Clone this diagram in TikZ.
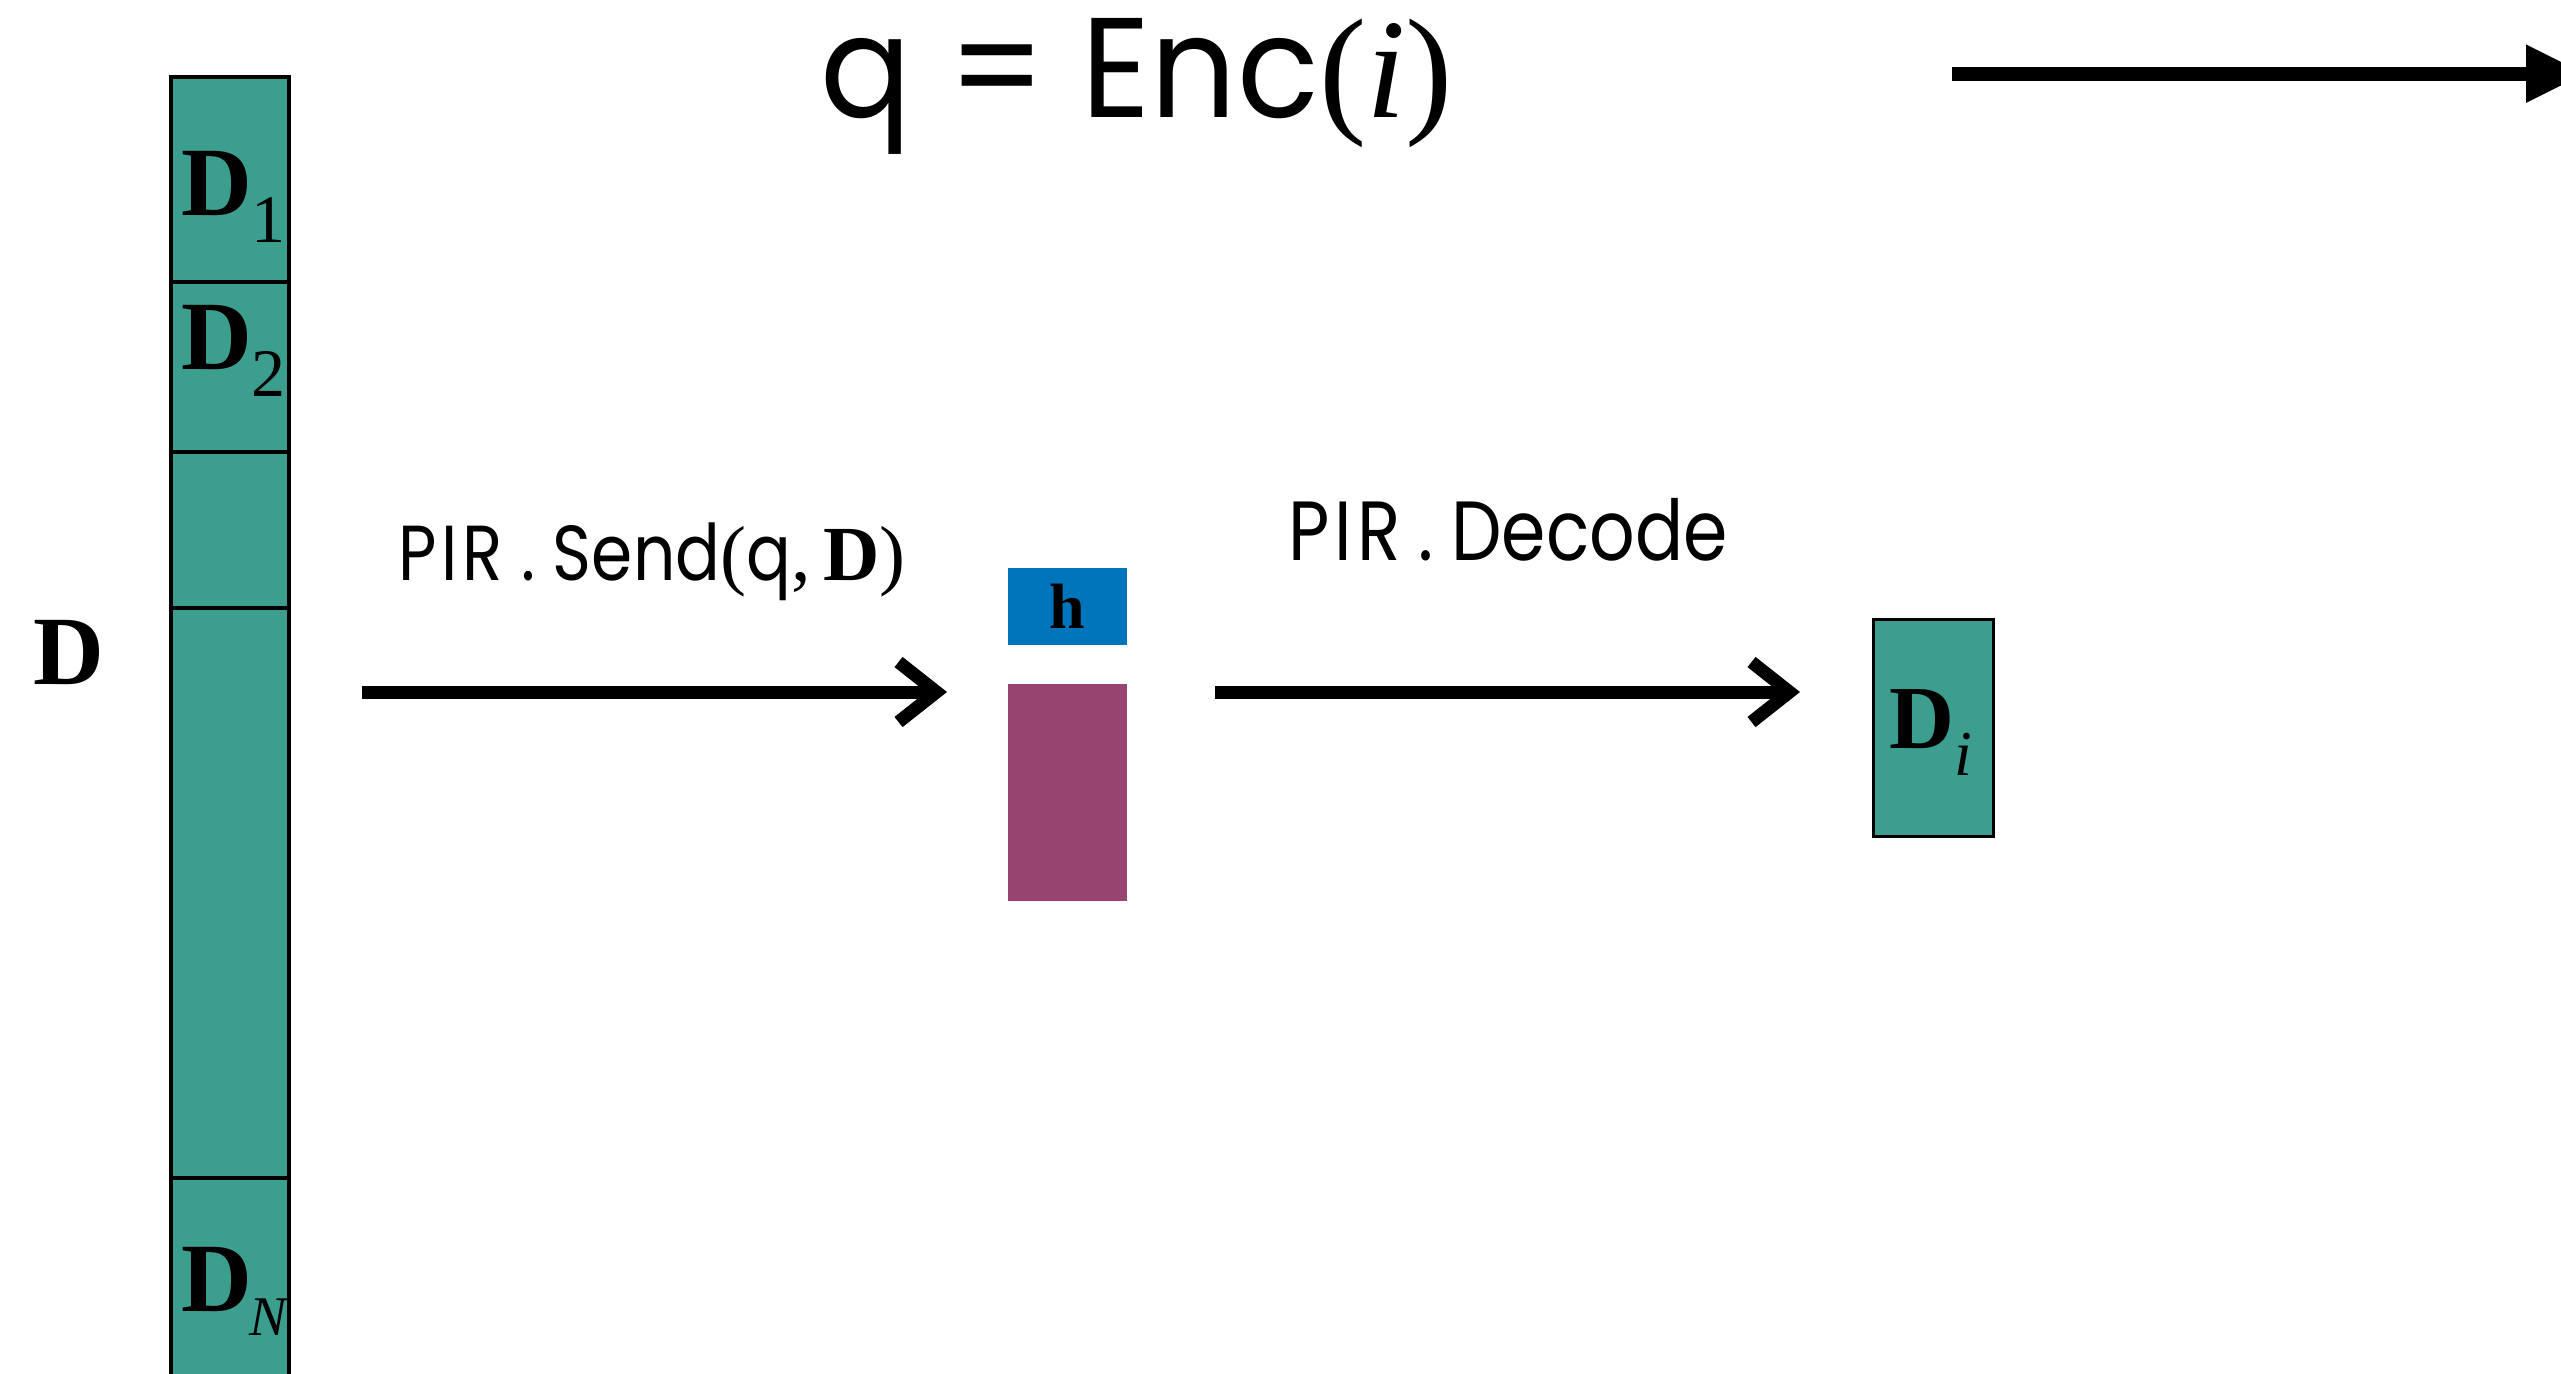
\documentclass[tikz,border=0pt]{standalone}
\usepackage{fontspec}
\setmainfont{Liberation Serif}
\setsansfont{Poppins}[FakeStretch=0.95]
\newfontfamily\condsans{Poppins}[FakeStretch=0.85]
\usetikzlibrary{arrows.meta}
\definecolor{cellteal}{RGB}{59,158,143}
\definecolor{hintblue}{RGB}{0,117,188}
\definecolor{replyplum}{RGB}{151,69,112}
\tikzset{
  cell/.style={draw=black, line width=2pt, fill=cellteal, minimum width=58.75pt,
    inner sep=0pt, outer sep=0pt},
  lbl/.style={inner sep=0pt, outer sep=0pt},
  flowarrow/.style={line width=6.5pt, -{Straight Barb[length=19pt,width=30pt,line width=6.5pt]}},
  sendarrow/.style={line width=7pt, -{Triangle[length=30pt,width=27pt]}},
  blk/.style={inner sep=0pt, outer sep=0pt, minimum width=59.5pt}
}
\newcommand{\bD}{\textbf{D}}
\newcommand{\pirdot}{{\condsans P\kern2.5pt I\kern2.5pt R\kern9pt.\kern9pt}}
\begin{document}
\begin{tikzpicture}[x=0.5pt,y=-0.5pt]
\useasboundingbox (0,0) rectangle (2561,1373);
\fill[white] (0,0) rectangle (2561,1373);

% database column
\node[cell, minimum height=102.75pt] (c1) at (230,179.75) {};
\node[cell, minimum height=85pt]     (c2) at (230,367.45) {};
\node[cell, minimum height=77.6pt]   (c3) at (230,530) {};
\node[cell, minimum height=285pt]    (c4) at (230,892.6) {};
\node[cell, minimum height=111.2pt]  (cN) at (230,1288.8) {};

\node[lbl, anchor=base west, font=\fontsize{49}{50}\selectfont] (t1) at (181,215)
  {\bD\raisebox{-0.28em}{\fontsize{34}{34}\selectfont 1}};
\node[lbl, anchor=base west, font=\fontsize{49}{50}\selectfont] (t2) at (181,369)
  {\bD\raisebox{-0.28em}{\fontsize{34}{34}\selectfont 2}};
\node[lbl, anchor=base west, font=\fontsize{49}{50}\selectfont] (tN) at (181,1311)
  {\bD\raisebox{-0.25em}{\fontsize{28}{28}\selectfont\itshape\kern-1pt N}};

\node[lbl, anchor=base west, font=\fontsize{49}{50}\selectfont] (dlab) at (33,684) {\bD};

% query
\node[lbl, anchor=base, font=\fontsize{71}{72}\selectfont] (enc) at (1137,117)
  {\sffamily q = Enc\rmfamily(\textit{i})};
\coordinate (q0) at (1952,73.7);
\coordinate (q1) at (2586,73.7);
\draw[sendarrow] (q0) -- (q1);

% answer
\coordinate (s0) at (362,692);
\coordinate (s1) at (947,692);
\draw[flowarrow] (s0) -- (s1);
\node[lbl, anchor=base, font=\fontsize{39}{41}\selectfont] (sendlab) at (652,580)
  {\pirdot\condsans Send\rmfamily(\condsans q\rmfamily,\,\textbf{D})};

\node[blk, fill=hintblue, minimum height=38.5pt, font=\fontsize{32}{32}\selectfont] (h) at (1067.5,606.5) {\textbf{h}};
\node[blk, fill=replyplum, minimum height=108.5pt] (ans) at (1067.5,792.5) {};

% decoding
\coordinate (r0) at (1215,692);
\coordinate (r1) at (1800,692);
\draw[flowarrow] (r0) -- (r1);
\node[lbl, anchor=base, font=\fontsize{42}{44}\selectfont] (declab) at (1508,560)
  {\pirdot\condsans Decode};

\node[cell, line width=1.5pt, minimum width=60pt, minimum height=108.5pt] (di) at (1933,727.5) {};
\node[lbl, anchor=base west, font=\fontsize{45}{46}\selectfont] (tdi) at (1889,748)
  {\bD\raisebox{-0.3em}{\fontsize{32}{32}\selectfont\itshape i}};
\end{tikzpicture}
\end{document}
